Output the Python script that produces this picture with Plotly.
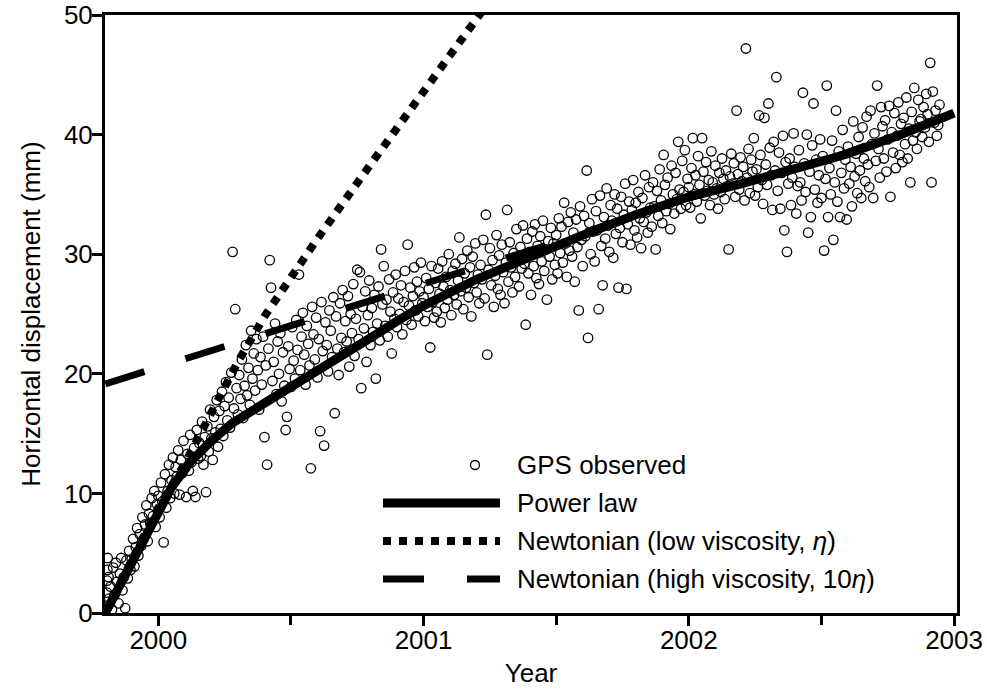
import plotly.graph_objects as go

# ---------------- DATA ----------------
# GPS observed (decimal year, horizontal displacement in mm)
gps_1999 = [
    (1999.805, 0.6), (1999.806, 1.7), (1999.807, 2.7), (1999.808, 3.6), (1999.809, 4.6),
    (1999.812, 3.0), (1999.815, 1.2), (1999.820, 2.2), (1999.825, 0.3), (1999.830, 3.8),
    (1999.835, 1.5), (1999.840, 4.2), (1999.845, 2.6), (1999.850, 0.8), (1999.855, 3.3),
    (1999.860, 4.6), (1999.865, 1.9), (1999.870, 3.0), (1999.875, 0.4), (1999.880, 4.4),
    (1999.885, 2.9), (1999.890, 5.2), (1999.895, 3.6), (1999.900, 4.5), (1999.905, 6.2),
    (1999.910, 3.9), (1999.915, 5.5), (1999.920, 7.1), (1999.925, 4.8), (1999.930, 6.6),
    (1999.935, 5.6), (1999.940, 8.0), (1999.945, 6.2), (1999.950, 7.4), (1999.955, 9.0),
    (1999.960, 6.0), (1999.965, 8.3), (1999.970, 7.5), (1999.975, 9.6), (1999.980, 8.1),
    (1999.985, 10.2), (1999.990, 7.2), (1999.995, 9.1),
]
gps_2000a = [
    (2000.000, 9.8), (2000.005, 8.0), (2000.010, 10.9), (2000.015, 9.3), (2000.020, 5.9),
    (2000.025, 11.6), (2000.030, 8.8), (2000.035, 10.2), (2000.040, 12.4), (2000.045, 9.6),
    (2000.050, 11.1), (2000.055, 13.0), (2000.060, 10.0), (2000.065, 12.2), (2000.070, 11.4),
    (2000.075, 13.6), (2000.080, 9.9), (2000.085, 12.8), (2000.090, 11.7), (2000.095, 14.4),
    (2000.100, 12.1), (2000.105, 9.7), (2000.110, 13.3), (2000.115, 11.9), (2000.120, 14.9),
    (2000.125, 12.6), (2000.130, 10.2), (2000.135, 13.8), (2000.140, 9.7), (2000.145, 15.3),
    (2000.150, 12.9), (2000.155, 14.2), (2000.160, 13.1), (2000.165, 16.0), (2000.170, 12.4),
    (2000.175, 14.7), (2000.180, 10.1), (2000.185, 15.6), (2000.190, 13.5), (2000.195, 17.0),
    (2000.200, 14.6), (2000.205, 12.8), (2000.210, 16.4), (2000.215, 15.1), (2000.220, 17.8),
    (2000.225, 13.9), (2000.230, 16.9), (2000.235, 15.4), (2000.240, 18.5), (2000.245, 14.8),
    (2000.250, 17.3), (2000.255, 19.3), (2000.260, 16.1), (2000.265, 18.0), (2000.270, 15.5),
    (2000.275, 20.1), (2000.280, 30.2), (2000.285, 17.1), (2000.290, 25.4), (2000.295, 18.8),
    (2000.300, 16.6), (2000.305, 19.9), (2000.310, 17.9), (2000.315, 21.2), (2000.320, 16.3),
    (2000.325, 19.0), (2000.330, 22.4), (2000.335, 18.2), (2000.340, 20.5), (2000.345, 17.4),
    (2000.350, 23.6), (2000.355, 19.6), (2000.360, 21.7), (2000.365, 18.6), (2000.370, 22.9),
    (2000.375, 20.3), (2000.380, 17.0), (2000.385, 21.4), (2000.390, 19.1), (2000.395, 23.1),
    (2000.400, 14.7), (2000.405, 20.7), (2000.410, 12.4), (2000.415, 22.1), (2000.420, 29.5),
    (2000.425, 27.2), (2000.430, 19.4), (2000.435, 21.0), (2000.440, 24.2), (2000.445, 18.3),
    (2000.450, 22.7), (2000.455, 20.0), (2000.460, 23.4), (2000.465, 17.7), (2000.470, 21.8),
    (2000.475, 19.0), (2000.480, 15.3), (2000.485, 16.4), (2000.490, 22.3), (2000.495, 20.4),
]
gps_2000b = [
    (2000.500, 18.9), (2000.505, 23.9), (2000.510, 21.1), (2000.515, 19.6), (2000.520, 24.5),
    (2000.525, 22.0), (2000.530, 28.3), (2000.535, 20.3), (2000.540, 23.1), (2000.545, 25.1),
    (2000.550, 21.6), (2000.555, 19.1), (2000.560, 24.0), (2000.565, 22.5), (2000.570, 20.7),
    (2000.575, 12.1), (2000.580, 25.6), (2000.585, 23.3), (2000.590, 21.2), (2000.595, 24.7),
    (2000.600, 19.7), (2000.605, 22.9), (2000.610, 15.2), (2000.615, 26.0), (2000.620, 21.9),
    (2000.625, 14.0), (2000.630, 24.3), (2000.635, 22.4), (2000.640, 20.2), (2000.645, 25.3),
    (2000.650, 23.6), (2000.655, 21.4), (2000.660, 26.4), (2000.665, 16.7), (2000.670, 24.8),
    (2000.675, 22.1), (2000.680, 19.9), (2000.685, 25.9), (2000.690, 23.0), (2000.695, 27.0),
    (2000.700, 21.8), (2000.705, 24.4), (2000.710, 22.7), (2000.715, 26.5), (2000.720, 20.6),
    (2000.725, 25.0), (2000.730, 23.4), (2000.735, 27.5), (2000.740, 21.5), (2000.745, 24.6),
    (2000.750, 28.7), (2000.755, 22.9), (2000.760, 28.5), (2000.765, 18.8), (2000.770, 25.6),
    (2000.775, 23.8), (2000.780, 26.9), (2000.785, 21.0), (2000.790, 24.9), (2000.795, 27.8),
    (2000.800, 22.4), (2000.805, 25.5), (2000.810, 23.5), (2000.815, 26.6), (2000.820, 19.6),
    (2000.825, 24.2), (2000.830, 27.3), (2000.835, 22.8), (2000.840, 30.4), (2000.845, 25.8),
    (2000.850, 29.0), (2000.855, 24.0), (2000.860, 26.2), (2000.865, 23.1), (2000.870, 27.9),
    (2000.875, 25.2), (2000.880, 21.7), (2000.885, 26.8), (2000.890, 24.6), (2000.895, 28.3),
    (2000.900, 23.9), (2000.905, 26.3), (2000.910, 25.0), (2000.915, 27.4), (2000.920, 23.3),
    (2000.925, 26.0), (2000.930, 28.6), (2000.935, 24.5), (2000.940, 30.8), (2000.945, 25.7),
    (2000.950, 27.2), (2000.955, 24.1), (2000.960, 26.5), (2000.965, 28.9), (2000.970, 25.3),
    (2000.975, 27.7), (2000.980, 24.8), (2000.985, 26.9), (2000.990, 29.3), (2000.995, 25.9),
]
gps_2001a = [
    (2001.000, 26.4), (2001.005, 24.4), (2001.010, 28.0), (2001.015, 25.6), (2001.020, 27.1),
    (2001.025, 22.2), (2001.030, 29.0), (2001.035, 26.0), (2001.040, 24.7), (2001.045, 27.6),
    (2001.050, 25.2), (2001.055, 28.8), (2001.060, 26.7), (2001.065, 24.3), (2001.070, 29.4),
    (2001.075, 27.3), (2001.080, 25.5), (2001.085, 28.1), (2001.090, 26.2), (2001.095, 30.0),
    (2001.100, 27.0), (2001.105, 24.9), (2001.110, 28.6), (2001.115, 26.6), (2001.120, 29.2),
    (2001.125, 25.8), (2001.130, 27.8), (2001.135, 31.4), (2001.140, 26.9), (2001.145, 29.6),
    (2001.150, 25.4), (2001.155, 28.4), (2001.160, 27.2), (2001.165, 30.3), (2001.170, 26.4),
    (2001.175, 28.9), (2001.180, 24.8), (2001.185, 29.8), (2001.190, 27.6), (2001.195, 30.9),
    (2001.200, 26.8), (2001.205, 28.3), (2001.210, 25.9), (2001.215, 29.1), (2001.220, 27.9),
    (2001.225, 31.2), (2001.230, 26.3), (2001.235, 33.3), (2001.240, 21.6), (2001.245, 28.7),
    (2001.250, 30.5), (2001.255, 27.4), (2001.260, 29.5), (2001.265, 25.6), (2001.270, 28.2),
    (2001.275, 31.6), (2001.280, 27.1), (2001.285, 29.9), (2001.290, 26.6), (2001.295, 30.8),
    (2001.300, 28.5), (2001.305, 25.9), (2001.310, 29.3), (2001.315, 33.7), (2001.320, 27.7),
    (2001.325, 31.0), (2001.330, 28.9), (2001.335, 26.8), (2001.340, 30.1), (2001.345, 28.1),
    (2001.350, 32.1), (2001.355, 29.6), (2001.360, 27.3), (2001.365, 30.6), (2001.370, 28.8),
    (2001.375, 32.4), (2001.380, 29.2), (2001.385, 24.1), (2001.390, 31.3), (2001.395, 28.4),
    (2001.400, 30.2), (2001.405, 26.6), (2001.410, 31.9), (2001.415, 29.0), (2001.420, 32.5),
    (2001.425, 28.0), (2001.430, 30.7), (2001.435, 27.5), (2001.440, 31.5), (2001.445, 29.4),
    (2001.450, 32.8), (2001.455, 28.6), (2001.460, 30.4), (2001.465, 26.2), (2001.470, 31.1),
    (2001.475, 29.8), (2001.480, 32.2), (2001.485, 27.9), (2001.490, 30.9), (2001.495, 29.1),
]
gps_2001b = [
    (2001.500, 31.6), (2001.505, 28.4), (2001.510, 33.0), (2001.515, 30.1), (2001.520, 32.3),
    (2001.525, 29.3), (2001.530, 34.3), (2001.535, 30.9), (2001.540, 28.1), (2001.545, 32.7),
    (2001.550, 30.3), (2001.555, 33.5), (2001.560, 29.8), (2001.565, 31.8), (2001.570, 27.7),
    (2001.575, 32.9), (2001.580, 30.6), (2001.585, 25.3), (2001.590, 34.0), (2001.595, 31.2),
    (2001.600, 29.0), (2001.605, 33.2), (2001.610, 31.5), (2001.615, 37.0), (2001.620, 23.0),
    (2001.625, 32.6), (2001.630, 30.0), (2001.635, 34.6), (2001.640, 31.9), (2001.645, 29.4),
    (2001.650, 33.6), (2001.655, 32.0), (2001.660, 25.4), (2001.665, 34.9), (2001.670, 30.7),
    (2001.675, 27.4), (2001.680, 33.1), (2001.685, 31.3), (2001.690, 35.5), (2001.695, 32.4),
    (2001.700, 30.2), (2001.705, 34.1), (2001.710, 32.8), (2001.715, 29.7), (2001.720, 35.0),
    (2001.725, 31.7), (2001.730, 33.8), (2001.735, 27.2), (2001.740, 32.2), (2001.745, 34.8),
    (2001.750, 31.0), (2001.755, 33.3), (2001.760, 35.9), (2001.765, 27.1), (2001.770, 32.5),
    (2001.775, 34.4), (2001.780, 30.8), (2001.785, 33.7), (2001.790, 36.2), (2001.795, 32.0),
    (2001.800, 34.3), (2001.805, 31.4), (2001.810, 35.2), (2001.815, 33.0), (2001.820, 30.5),
    (2001.825, 34.7), (2001.830, 32.7), (2001.835, 36.6), (2001.840, 33.5), (2001.845, 31.8),
    (2001.850, 35.6), (2001.855, 33.9), (2001.860, 32.3), (2001.865, 36.0), (2001.870, 34.0),
    (2001.875, 30.4), (2001.880, 35.3), (2001.885, 33.2), (2001.890, 37.1), (2001.895, 34.5),
    (2001.900, 32.6), (2001.905, 38.3), (2001.910, 35.8), (2001.915, 33.6), (2001.920, 36.4),
    (2001.925, 34.2), (2001.930, 32.1), (2001.935, 37.4), (2001.940, 35.0), (2001.945, 33.4),
    (2001.950, 36.8), (2001.955, 34.6), (2001.960, 39.4), (2001.965, 35.4), (2001.970, 33.8),
    (2001.975, 37.8), (2001.980, 35.2), (2001.985, 38.7), (2001.990, 34.1), (2001.995, 36.3),
]
gps_2002a = [
    (2002.000, 35.6), (2002.005, 33.9), (2002.010, 37.2), (2002.015, 39.7), (2002.020, 35.0),
    (2002.025, 36.6), (2002.030, 34.4), (2002.035, 38.2), (2002.040, 35.8), (2002.045, 33.0),
    (2002.050, 39.7), (2002.055, 36.9), (2002.060, 34.9), (2002.065, 37.7), (2002.070, 35.3),
    (2002.075, 36.2), (2002.080, 34.1), (2002.085, 38.6), (2002.090, 36.0), (2002.095, 35.0),
    (2002.100, 37.4), (2002.105, 35.5), (2002.110, 33.8), (2002.115, 36.8), (2002.120, 35.2),
    (2002.125, 38.0), (2002.130, 36.3), (2002.135, 34.6), (2002.140, 37.0), (2002.145, 35.7),
    (2002.150, 30.4), (2002.155, 36.5), (2002.160, 38.4), (2002.165, 35.9), (2002.170, 37.6),
    (2002.175, 34.8), (2002.180, 42.0), (2002.185, 36.7), (2002.190, 35.4), (2002.195, 38.1),
    (2002.200, 36.1), (2002.205, 37.3), (2002.210, 34.5), (2002.215, 47.2), (2002.220, 36.4),
    (2002.225, 38.8), (2002.230, 35.1), (2002.235, 37.9), (2002.240, 36.9), (2002.245, 39.7),
    (2002.250, 34.9), (2002.255, 37.1), (2002.260, 35.6), (2002.265, 41.6), (2002.270, 38.3),
    (2002.275, 36.2), (2002.280, 34.2), (2002.285, 41.4), (2002.290, 37.5), (2002.295, 35.8),
    (2002.300, 42.6), (2002.305, 38.9), (2002.310, 36.6), (2002.315, 33.7), (2002.320, 39.4),
    (2002.325, 37.0), (2002.330, 44.8), (2002.335, 35.3), (2002.340, 38.5), (2002.345, 33.8),
    (2002.350, 36.8), (2002.355, 39.9), (2002.360, 32.0), (2002.365, 37.7), (2002.370, 30.2),
    (2002.375, 35.9), (2002.380, 38.0), (2002.385, 34.1), (2002.390, 36.4), (2002.395, 40.1),
    (2002.400, 37.3), (2002.405, 33.4), (2002.410, 35.7), (2002.415, 38.7), (2002.420, 36.0),
    (2002.425, 34.5), (2002.430, 43.5), (2002.435, 37.6), (2002.440, 35.2), (2002.445, 40.0),
    (2002.450, 31.8), (2002.455, 36.9), (2002.460, 33.1), (2002.465, 39.1), (2002.470, 42.6),
    (2002.475, 35.4), (2002.480, 37.9), (2002.485, 34.3), (2002.490, 36.6), (2002.495, 39.6),
]
gps_2002b = [
    (2002.500, 34.7), (2002.505, 38.2), (2002.510, 30.3), (2002.515, 36.3), (2002.520, 44.1),
    (2002.525, 33.1), (2002.530, 37.2), (2002.535, 35.0), (2002.540, 39.5), (2002.545, 31.2),
    (2002.550, 36.0), (2002.555, 42.0), (2002.560, 34.4), (2002.565, 38.6), (2002.570, 33.1),
    (2002.575, 36.8), (2002.580, 40.4), (2002.585, 35.5), (2002.590, 37.9), (2002.595, 32.9),
    (2002.600, 39.0), (2002.605, 35.9), (2002.610, 37.3), (2002.615, 34.0), (2002.620, 41.1),
    (2002.625, 36.5), (2002.630, 38.4), (2002.635, 35.1), (2002.640, 39.8), (2002.645, 37.0),
    (2002.650, 34.7), (2002.655, 40.6), (2002.660, 38.0), (2002.665, 36.1), (2002.670, 41.5),
    (2002.675, 37.5), (2002.680, 35.6), (2002.685, 42.0), (2002.690, 39.2), (2002.695, 34.7),
    (2002.700, 40.1), (2002.705, 37.8), (2002.710, 44.1), (2002.715, 38.8), (2002.720, 36.4),
    (2002.725, 42.3), (2002.730, 40.7), (2002.735, 38.0), (2002.740, 41.2), (2002.745, 36.9),
    (2002.750, 39.6), (2002.755, 42.4), (2002.760, 34.8), (2002.765, 40.2), (2002.770, 38.5),
    (2002.775, 41.8), (2002.780, 37.2), (2002.785, 39.9), (2002.790, 42.7), (2002.795, 38.3),
    (2002.800, 40.9), (2002.805, 37.7), (2002.810, 41.4), (2002.815, 39.2), (2002.820, 43.1),
    (2002.825, 38.0), (2002.830, 40.5), (2002.835, 36.0), (2002.840, 41.9), (2002.845, 39.5),
    (2002.850, 43.9), (2002.855, 40.2), (2002.860, 38.8), (2002.865, 42.9), (2002.870, 41.1),
    (2002.875, 41.3), (2002.880, 39.8), (2002.885, 42.3), (2002.890, 40.6), (2002.895, 43.4),
    (2002.900, 41.7), (2002.905, 39.4), (2002.910, 46.0), (2002.915, 36.0), (2002.920, 43.6),
    (2002.925, 41.0), (2002.930, 42.0), (2002.935, 39.9), (2002.940, 40.8), (2002.945, 42.5),
]

# Power-law model curve
power_x = [1999.80, 1999.85, 1999.90, 1999.95, 2000.00, 2000.05, 2000.12, 2000.20, 2000.28,
           2000.40, 2000.50, 2000.60, 2000.70, 2000.80, 2000.90, 2001.00, 2001.20, 2001.40,
           2001.60, 2001.80, 2002.00, 2002.20, 2002.40, 2002.60, 2002.80, 2003.00]
power_y = [0.0, 2.1, 4.3, 6.5, 8.6, 10.5, 12.6, 14.4, 15.9,
           17.5, 18.8, 20.2, 21.6, 23.0, 24.4, 25.7, 27.9, 29.8,
           31.6, 33.3, 34.8, 35.9, 37.1, 38.4, 40.0, 41.8]

# Newtonian, low viscosity (eta)
low_x = [1999.80, 1999.90, 2000.00, 2000.10, 2000.20, 2000.30, 2000.40, 2000.50,
         2000.60, 2000.80, 2001.00, 2001.22]
low_y = [0.0, 4.5, 8.8, 12.5, 16.8, 21.0, 24.8, 28.2,
         31.3, 37.5, 43.5, 50.3]

# Newtonian, high viscosity (10 eta)
high_x = [1999.80, 2000.40, 2001.00, 2001.50, 2002.00, 2002.50, 2003.00]
high_y = [19.15, 23.35, 27.55, 31.0, 34.8, 37.7, 41.8]

x_ticks = [2000, 2001, 2002, 2003]
x_minor = [2000.5, 2001.5, 2002.5]
y_ticks = [0, 10, 20, 30, 40, 50]

legend_labels = ["GPS observed", "Power law",
                 "Newtonian (low viscosity, <i>η</i>)",
                 "Newtonian (high viscosity, 10<i>η</i>)"]

# ---------------- FIGURE ----------------
FONT = "Liberation Sans, Arial, Helvetica, sans-serif"
W, H = 987, 690
ML, MR, MT, MB = 105, 30, 15, 77
PW, PH = W - ML - MR, H - MT - MB


def px(xp):
    return (xp - ML) / PW


def py(yp):
    return (H - MB - yp) / PH


gps_all = gps_1999 + gps_2000a + gps_2000b + gps_2001a + gps_2001b + gps_2002a + gps_2002b
gps_x = [p[0] for p in gps_all]
gps_y = [p[1] for p in gps_all]

fig = go.Figure()
fig.add_trace(go.Scatter(
    x=gps_x, y=gps_y, mode="markers", name=legend_labels[0],
    marker=dict(symbol="circle-open", size=9.5, color="black", line=dict(width=1.3)),
    cliponaxis=True))
fig.add_trace(go.Scatter(x=high_x, y=high_y, mode="lines", name=legend_labels[3],
                         line=dict(color="black", width=7, dash="41px,43px")))
fig.add_trace(go.Scatter(x=low_x, y=low_y, mode="lines", name=legend_labels[2],
                         line=dict(color="black", width=8, dash="dot")))
fig.add_trace(go.Scatter(x=power_x, y=power_y, mode="lines", name=legend_labels[1],
                         line=dict(color="black", width=9)))

# manual legend (long line samples, as in the original)
rows_y = [465, 503, 541, 579]
lx0, lx1, tx, mx = 383, 500, 515, 475
shapes = []
annos = []
shapes.append(dict(type="circle", xref="paper", yref="paper",
                   xsizemode="pixel", ysizemode="pixel",
                   xanchor=px(mx), yanchor=py(rows_y[0]),
                   x0=-4.5, x1=4.5, y0=-4.5, y1=4.5,
                   line=dict(color="black", width=1.3)))
styles = [None, dict(width=9, dash="solid"), dict(width=8, dash="dot"),
          dict(width=7, dash="41px,43px")]
for i in range(1, 4):
    shapes.append(dict(type="line", xref="paper", yref="paper",
                       x0=px(lx0), x1=px(lx1), y0=py(rows_y[i]), y1=py(rows_y[i]),
                       line=dict(color="black", **styles[i])))
for i, lab in enumerate(legend_labels):
    annos.append(dict(xref="paper", yref="paper", x=px(tx), y=py(rows_y[i]),
                      xanchor="left", yanchor="middle", text=lab, showarrow=False,
                      font=dict(family=FONT, size=26, color="black")))

fig.update_layout(
    width=W, height=H,
    margin=dict(l=ML, r=MR, t=MT, b=MB, pad=0, autoexpand=False),
    paper_bgcolor="white", plot_bgcolor="white",
    showlegend=False,
    font=dict(family=FONT, size=26, color="black"),
    shapes=shapes, annotations=annos,
)
fig.update_xaxes(
    range=[1999.799, 2003.011], tickvals=x_ticks, ticktext=[str(v) for v in x_ticks],
    ticks="outside", ticklen=10, tickwidth=3, tickcolor="black",
    minor=dict(tickvals=x_minor, ticks="outside", ticklen=9, tickwidth=3, tickcolor="black"),
    showline=True, linewidth=3, linecolor="black", mirror=True,
    showgrid=False, zeroline=False, automargin=False,
    ticklabelstandoff=-8, ticklabeloverflow="allow",
    tickfont=dict(size=26), title=dict(text="Year", font=dict(size=26), standoff=10),
)
fig.update_yaxes(
    range=[0, 50], tickvals=y_ticks,
    ticks="outside", ticklen=10, tickwidth=3, tickcolor="black",
    showline=True, linewidth=3, linecolor="black", mirror=True,
    showgrid=False, zeroline=False, automargin=False,
    ticklabelstandoff=-6, ticklabeloverflow="allow",
    tickfont=dict(size=26), title=dict(text="Horizontal displacement (mm)", font=dict(size=26), standoff=16),
)

# the page's default 8px body margin would shift the figure; remove it
fig.write_html("out.html",
               config={"displayModeBar": False},
               post_script="document.body.style.margin='0';document.body.style.padding='0';")
